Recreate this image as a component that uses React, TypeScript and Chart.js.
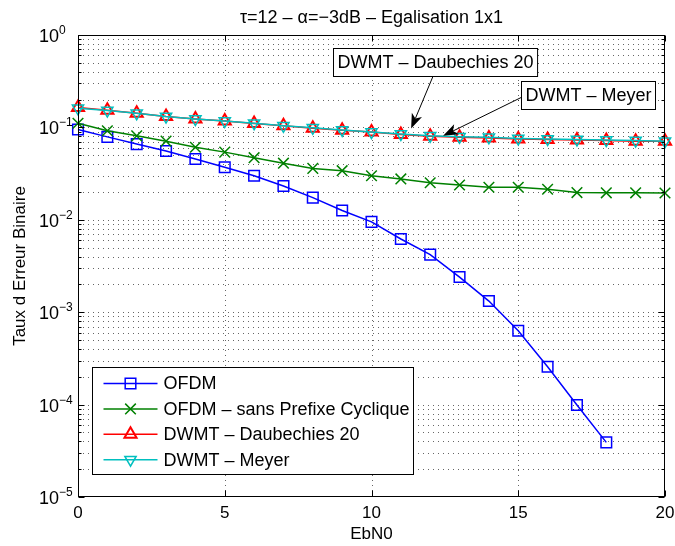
import React, { useEffect, useRef } from 'react';
import { Chart, registerables } from 'chart.js';

Chart.register(...registerables);

// ---------------- data ----------------
const ebn0 = [0, 1, 2, 3, 4, 5, 6, 7, 8, 9, 10, 11, 12, 13, 14, 15, 16, 17, 18, 19, 20];

const ofdm = [0.095, 0.079, 0.066, 0.0556, 0.0455, 0.037, 0.030, 0.0232, 0.0174, 0.0126, 0.0095,
  0.0062, 0.0042, 0.0024, 0.00132, 0.00063, 0.000257, 0.000099, 0.000039];

const ofdmSansCP = [0.111, 0.092, 0.081, 0.071, 0.061, 0.054, 0.047, 0.041, 0.036, 0.034, 0.030,
  0.0277, 0.0252, 0.0238, 0.0225, 0.0225, 0.0214, 0.0197, 0.0196, 0.0196, 0.0195];

const dwmtDaub = [0.164, 0.153, 0.142, 0.131, 0.123, 0.117, 0.110, 0.104, 0.098, 0.093, 0.089,
  0.084, 0.080, 0.078, 0.077, 0.075, 0.074, 0.073, 0.072, 0.071, 0.071];

const dwmtMeyer = [0.161, 0.152, 0.142, 0.131, 0.123, 0.117, 0.111, 0.104, 0.099, 0.094, 0.089,
  0.085, 0.081, 0.079, 0.078, 0.076, 0.075, 0.074, 0.073, 0.072, 0.071];

const seriesNames = ['OFDM', 'OFDM \u2013 sans Prefixe Cyclique', 'DWMT \u2013 Daubechies 20', 'DWMT \u2013 Meyer'];
const xTicks = [0, 5, 10, 15, 20];
const yDecades = [-5, -4, -3, -2, -1, 0];
const titleText = '\u03C4=12 \u2013 \u03B1=\u22123dB \u2013 Egalisation 1x1';
const xLabel = 'EbN0';
const yLabel = 'Taux d Erreur Binaire';
const annotationTexts = ['DWMT \u2013 Daubechies 20', 'DWMT \u2013 Meyer'];

const FONT = "'Liberation Sans', Arial, Helvetica, sans-serif";

function pts(arr: number[]) {
  return arr.map((v, i) => ({ x: ebn0[i], y: v }));
}

function drawMarker(ctx: CanvasRenderingContext2D, style: string, x: number, y: number, r: number, rotation: number) {
  ctx.beginPath();
  if (style === 'rect') {
    const s = Math.SQRT1_2 * r;
    ctx.rect(x - s, y - s, 2 * s, 2 * s);
  } else if (style === 'crossRot') {
    const d = Math.SQRT1_2 * r;
    ctx.moveTo(x - d, y - d); ctx.lineTo(x + d, y + d);
    ctx.moveTo(x - d, y + d); ctx.lineTo(x + d, y - d);
  } else if (style === 'triangle') {
    let rad = (rotation * Math.PI) / 180;
    for (let k = 0; k < 3; k++) {
      const px = x + Math.sin(rad) * r;
      const py = y - Math.cos(rad) * r;
      if (k === 0) ctx.moveTo(px, py); else ctx.lineTo(px, py);
      rad += (2 * Math.PI) / 3;
    }
    ctx.closePath();
  }
  ctx.stroke();
}

function arrow(ctx: CanvasRenderingContext2D, x0: number, y0: number, x1: number, y1: number) {
  const ang = Math.atan2(y1 - y0, x1 - x0);
  const L = 15, W = 5.5, back = 11;
  ctx.beginPath();
  ctx.moveTo(x0, y0);
  ctx.lineTo(x1 - Math.cos(ang) * back, y1 - Math.sin(ang) * back);
  ctx.stroke();
  const bx = x1 - Math.cos(ang) * L, by = y1 - Math.sin(ang) * L;
  const nx = -Math.sin(ang), ny = Math.cos(ang);
  const mx = x1 - Math.cos(ang) * back, my = y1 - Math.sin(ang) * back;
  ctx.beginPath();
  ctx.moveTo(x1, y1);
  ctx.lineTo(bx + nx * W, by + ny * W);
  ctx.lineTo(mx, my);
  ctx.lineTo(bx - nx * W, by - ny * W);
  ctx.closePath();
  ctx.fill();
}

const matlabPlugin = {
  id: 'matlabFrame',
  beforeDatasetsDraw(chart: any) {
    const { ctx, chartArea, scales } = chart;
    const { left, right, top, bottom } = chartArea;
    const xs = scales.x, ys = scales.y;
    ctx.save();
    ctx.strokeStyle = 'rgba(0,0,0,0.6)';
    ctx.lineWidth = 1;
    ctx.setLineDash([1, 4]);
    xTicks.forEach((t) => {
      const px = Math.round(xs.getPixelForValue(t)) + 0.5;
      if (px <= left + 1 || px >= right - 1) return;
      ctx.beginPath(); ctx.moveTo(px, top); ctx.lineTo(px, bottom); ctx.stroke();
    });
    yDecades.forEach((d) => {
      if (d === 0) return;
      for (let m = 1; m <= 9; m++) {
        const v = m * Math.pow(10, d);
        const py = Math.round(ys.getPixelForValue(v)) + 0.5;
        if (py >= bottom - 1 || py <= top + 1) continue;
        ctx.beginPath(); ctx.moveTo(left, py); ctx.lineTo(right, py); ctx.stroke();
      }
    });
    ctx.restore();
  },
  afterDatasetsDraw(chart: any) {
    const { ctx, chartArea, scales } = chart;
    const { left, right, top, bottom } = chartArea;
    const xs = scales.x, ys = scales.y;
    ctx.save();
    ctx.setLineDash([]);
    ctx.strokeStyle = '#000';
    ctx.fillStyle = '#000';
    ctx.lineWidth = 1;
    // box
    const L = Math.round(left) + 0.5, R = Math.round(right) - 0.5;
    const T = Math.round(top) + 0.5, B = Math.round(bottom) - 0.5;
    ctx.strokeRect(L, T, R - L, B - T);
    // x ticks
    ctx.beginPath();
    xTicks.forEach((t) => {
      const px = Math.round(xs.getPixelForValue(t)) + 0.5;
      ctx.moveTo(px, B); ctx.lineTo(px, B - 6);
      ctx.moveTo(px, T); ctx.lineTo(px, T + 6);
    });
    // y ticks
    yDecades.forEach((d) => {
      for (let m = 1; m <= 9; m++) {
        if (d === 0 && m > 1) break;
        const v = m * Math.pow(10, d);
        const py = Math.round(ys.getPixelForValue(v)) + 0.5;
        const len = m === 1 ? 6 : 3;
        ctx.moveTo(L, py); ctx.lineTo(L + len, py);
        ctx.moveTo(R, py); ctx.lineTo(R - len, py);
      }
    });
    ctx.stroke();

    // x tick labels
    ctx.font = `17px ${FONT}`;
    ctx.textAlign = 'center';
    ctx.textBaseline = 'middle';
    xTicks.forEach((t) => {
      ctx.fillText(String(t), xs.getPixelForValue(t), bottom + 16);
    });
    // x label
    ctx.fillText(xLabel, (left + right) / 2, bottom + 37);
    // y tick labels
    yDecades.forEach((d) => {
      const py = ys.getPixelForValue(Math.pow(10, d));
      ctx.font = `18px ${FONT}`;
      ctx.textAlign = 'right';
      ctx.textBaseline = 'alphabetic';
      ctx.fillText('10', left - 19, py + 7);
      ctx.font = `12px ${FONT}`;
      ctx.textAlign = 'left';
      ctx.fillText(d === 0 ? '0' : '\u2212' + String(-d), left - 19, py - 1);
    });
    // y label
    ctx.save();
    ctx.translate(20, (top + bottom) / 2);
    ctx.rotate(-Math.PI / 2);
    ctx.font = `17px ${FONT}`;
    ctx.textAlign = 'center';
    ctx.textBaseline = 'middle';
    ctx.fillText(yLabel, 0, 0);
    ctx.restore();
    // title
    ctx.font = `18px ${FONT}`;
    ctx.textAlign = 'center';
    ctx.textBaseline = 'middle';
    ctx.fillText(titleText, (left + right) / 2, top - 17);

    // annotations
    ctx.font = `18px ${FONT}`;
    ctx.textBaseline = 'middle';
    ctx.textAlign = 'left';
    const ann = [
      { text: annotationTexts[0], cx: 12.16, cy: 0.51, tail: [12.1, 0.36], tip: [11.35, 0.097] },
      { text: annotationTexts[1], cx: 17.36, cy: 0.224, tail: [15.13, 0.213], tip: [12.44, 0.081] },
    ];
    ann.forEach((a) => {
      const tx = xs.getPixelForValue(a.tail[0]), ty = ys.getPixelForValue(a.tail[1]);
      const hx = xs.getPixelForValue(a.tip[0]), hy = ys.getPixelForValue(a.tip[1]);
      ctx.lineWidth = 1;
      arrow(ctx, tx, ty, hx, hy);
    });
    ann.forEach((a) => {
      const cx = xs.getPixelForValue(a.cx), cy = ys.getPixelForValue(a.cy);
      const w = ctx.measureText(a.text).width + 8;
      const h = 28;
      const bx = Math.round(cx - w / 2) + 0.5, by = Math.round(cy - h / 2) + 0.5;
      ctx.fillStyle = '#fff';
      ctx.fillRect(bx, by, w, h);
      ctx.strokeStyle = '#000';
      ctx.strokeRect(bx, by, w, h);
      ctx.fillStyle = '#000';
      ctx.fillText(a.text, bx + 4, by + h / 2 + 1);
    });

    // legend
    const lgL = Math.round(left) + 14 + 0.5, lgT = Math.round(bottom) - 130 + 0.5;
    const lgW = 321, lgH = 107;
    ctx.fillStyle = '#fff';
    ctx.fillRect(lgL, lgT, lgW, lgH);
    ctx.strokeStyle = '#000';
    ctx.lineWidth = 1;
    ctx.strokeRect(lgL, lgT, lgW, lgH);
    chart.data.datasets.forEach((ds: any, i: number) => {
      const ry = lgT + 16 + i * 25.4;
      ctx.strokeStyle = ds.borderColor;
      ctx.lineWidth = ds.borderWidth;
      ctx.beginPath(); ctx.moveTo(lgL + 11, ry); ctx.lineTo(lgL + 65, ry); ctx.stroke();
      ctx.lineWidth = ds.pointBorderWidth;
      drawMarker(ctx, ds.pointStyle, lgL + 38, ry, ds.pointRadius, ds.pointRotation || 0);
      ctx.fillStyle = '#000';
      ctx.font = `18px ${FONT}`;
      ctx.textAlign = 'left';
      ctx.textBaseline = 'middle';
      ctx.fillText(ds.label, lgL + 71, ry + 1);
    });
    ctx.restore();
  },
};

export default function App() {
  const ref = useRef<HTMLCanvasElement | null>(null);
  useEffect(() => {
    if (!ref.current) return;
    const common = { borderWidth: 1.5, pointBorderWidth: 1.5, pointBackgroundColor: 'rgba(0,0,0,0)', tension: 0, clip: false as any, fill: false };
    const chart = new Chart(ref.current, {
      type: 'line',
      data: {
        datasets: [
          { ...common, label: seriesNames[0], data: pts(ofdm), borderColor: '#0000ff', pointBorderColor: '#0000ff', pointStyle: 'rect', pointRadius: 7.5, order: 4 },
          { ...common, label: seriesNames[1], data: pts(ofdmSansCP), borderColor: '#008000', pointBorderColor: '#008000', pointStyle: 'crossRot', pointRadius: 7.5, order: 3 },
          { ...common, label: seriesNames[2], data: pts(dwmtDaub), borderColor: '#ff0000', pointBorderColor: '#ff0000', pointBorderWidth: 2, pointStyle: 'triangle', pointRadius: 7, order: 2 },
          { ...common, label: seriesNames[3], data: pts(dwmtMeyer), borderColor: '#00bfbf', pointBorderColor: '#00bfbf', pointStyle: 'triangle', pointRotation: 180, pointRadius: 6.5, order: 1 },
        ] as any,
      },
      options: {
        responsive: false,
        devicePixelRatio: 1,
        animation: false,
        layout: { padding: { left: 0, top: 35, right: 10, bottom: 0 } },
        plugins: { legend: { display: false }, title: { display: false }, tooltip: { enabled: false } },
        scales: {
          x: {
            type: 'linear', min: 0, max: 20,
            ticks: { display: false, stepSize: 5 },
            grid: { display: false },
            border: { display: false },
            afterFit: (s: any) => { s.height = 49; },
          },
          y: {
            type: 'logarithmic', min: 1e-5, max: 1,
            ticks: { display: false },
            grid: { display: false },
            border: { display: false },
            afterFit: (s: any) => { s.width = 78; },
          },
        },
      } as any,
      plugins: [matlabPlugin],
    });
    return () => chart.destroy();
  }, []);
  return (
    <div style={{ position: 'absolute', left: 0, top: 0, width: 675, height: 546, background: '#fff' }}>
      <canvas ref={ref} width={675} height={546} style={{ display: 'block' }} />
    </div>
  );
}
